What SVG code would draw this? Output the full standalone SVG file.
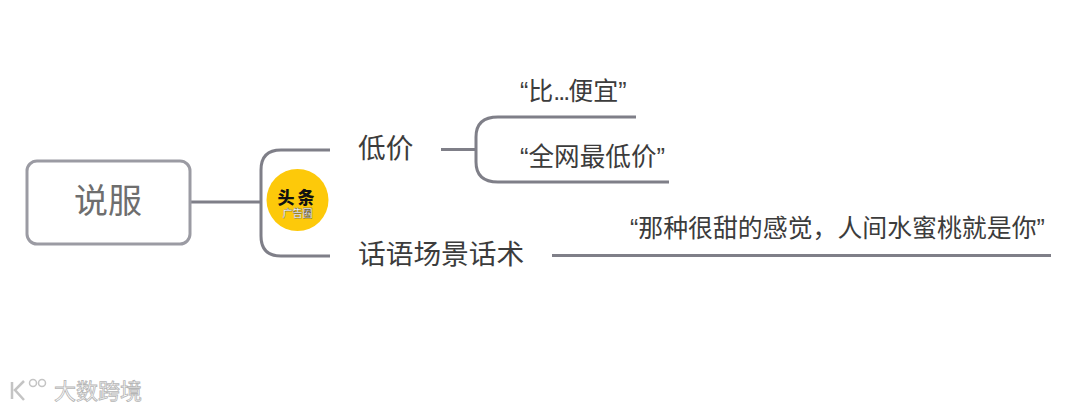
<svg xmlns="http://www.w3.org/2000/svg" width="1080" height="411" viewBox="0 0 1080 411">
<style>
text{font-family:"Liberation Sans","Noto Sans CJK SC",sans-serif}
.l{fill:none;stroke:#7f7f88;stroke-width:3}
.t{fill:#3c3c3c;font-size:27.700px}
.q{fill:#3c3c3c;font-size:25px}
</style>
<rect width="1080" height="411" fill="#fff"/>
<g id="connectors">
<path class="l" d="M191 202H260"/>
<path class="l" d="M330 150H281Q261 150 261 170V236Q261 256 281 256H330"/>
<path class="l" d="M441 149.500H476"/>
<path class="l" d="M636 117H498Q476 117 476 137V162Q476 182 498 182H669"/>
<path class="l" d="M552 255.500H1051"/>
</g>
<g id="root"><rect x="27" y="161" width="163" height="83" rx="10" fill="#fff" stroke="#9b9ba3" stroke-width="3"/><text x="108" y="213" text-anchor="middle" font-size="34" fill="#6e6e6e">说服</text></g>
<g id="badge"><circle cx="297.500" cy="200" r="31" fill="#fdc90a"/><text x="297.500" y="204" text-anchor="middle" font-size="17" letter-spacing="3" font-weight="900" fill="#111">头条</text><text x="297.500" y="217" text-anchor="middle" font-size="10" font-weight="700" fill="#fff" stroke="#444" stroke-width=".3">广告圈</text></g>
<g id="n1"><text class="t" x="358" y="158">低价</text></g>
<g id="n2"><text class="t" x="358" y="264">话语场景话术</text></g>
<g id="n3"><text class="q" x="520" y="100">“比<tspan letter-spacing="-2">...</tspan>便宜”</text></g>
<g id="n4"><text class="q" x="520" y="166" style="font-size:25.600px">“全网最低价”</text></g>
<g id="n5"><text class="q" x="630" y="237" style="font-size:24.900px">“那种很甜的感觉，人间水蜜桃就是你”</text></g>
<g id="watermark"><path d="M12 382V399M24 381L15 390L24 400" fill="none" stroke="#c4c4c4" stroke-width="2.500"/><circle cx="33" cy="383" r="3.500" fill="#fff" stroke="#c4c4c4" stroke-width="1.500"/><circle cx="42" cy="383" r="3.500" fill="#fff" stroke="#c4c4c4" stroke-width="1.500"/><text x="54" y="399" font-size="22" fill="#fff" stroke="#b5b5b5" stroke-width=".8">大数跨境</text></g>
</svg>
